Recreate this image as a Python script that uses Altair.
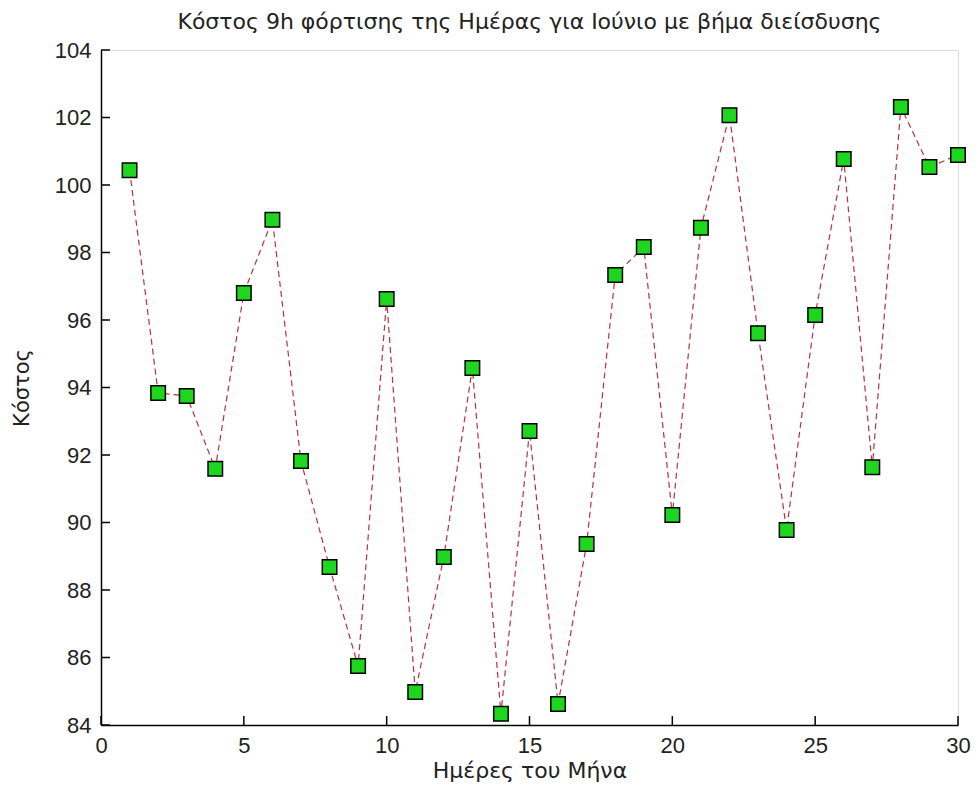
import altair as alt
import pandas as pd

days = list(range(1, 31))
cost = [100.44, 93.84, 93.75, 91.59, 96.80, 98.97, 91.82, 88.68, 85.75, 96.62,
        84.98, 88.98, 94.58, 84.33, 92.71, 84.62, 89.36, 97.33, 98.16, 90.22,
        98.73, 102.07, 95.61, 89.78, 96.15, 100.77, 91.64, 102.31, 100.53, 100.89]

x_ticks = [0, 5, 10, 15, 20, 25, 30]
y_ticks = [84, 86, 88, 90, 92, 94, 96, 98, 100, 102, 104]

title = "Κόστος 9h φόρτισης της Ημέρας για Ιούνιο με βήμα διείσδυσης"
x_title = "Ημέρες του Μήνα"
y_title = "Κόστος"

df = pd.DataFrame({"day": days, "cost": cost})
xt = pd.DataFrame({"t": x_ticks})
yt = pd.DataFrame({"t": y_ticks})

FONT = "Liberation Sans"
TFONT = "DejaVu Sans"
W, H = 857, 675

xscale = alt.Scale(domain=[0, 30], nice=False, zero=False)
yscale = alt.Scale(domain=[84, 104], nice=False, zero=False)

xaxis = alt.Axis(values=x_ticks, ticks=False, grid=False, domainColor="black",
                 domainWidth=1.5, labelFont=FONT, labelFontSize=22, labelColor="#222",
                 labelPadding=10, labelFlush=False, labelOverlap=False,
                 title=x_title, titleFont=TFONT, titleFontSize=22,
                 titleFontWeight="normal", titleColor="#222", titlePadding=4)
yaxis = alt.Axis(values=y_ticks, ticks=False, grid=False, domainColor="black",
                 domainWidth=1.5, labelFont=FONT, labelFontSize=22, labelColor="#222",
                 labelPadding=10, labelFlush=False, labelOverlap=False,
                 title=y_title, titleFont=TFONT, titleFontSize=21,
                 titleFontWeight="normal", titleColor="#222", titlePadding=22)

line = alt.Chart(df).mark_line(color="#b8323f", strokeWidth=1.2,
                               strokeDash=[6, 4]).encode(
    x=alt.X("day:Q", scale=xscale, axis=xaxis),
    y=alt.Y("cost:Q", scale=yscale, axis=yaxis),
)

points = alt.Chart(df).mark_point(shape="square", size=210, filled=True,
                                  fill="#1fd61f", stroke="black", strokeWidth=1.5,
                                  opacity=1).encode(
    x=alt.X("day:Q", scale=xscale),
    y=alt.Y("cost:Q", scale=yscale),
)

xtick_marks = alt.Chart(xt).mark_rule(color="black", strokeWidth=1.5).encode(
    x=alt.X("t:Q", scale=xscale),
    y=alt.value(H),
    y2=alt.value(H - 9),
)
ytick_marks = alt.Chart(yt).mark_rule(color="black", strokeWidth=1.5).encode(
    y=alt.Y("t:Q", scale=yscale),
    x=alt.value(0),
    x2=alt.value(9),
)

chart = alt.layer(line, xtick_marks, ytick_marks, points).properties(
    width=W, height=H,
    title=alt.TitleParams(title, font=TFONT, fontSize=22, fontWeight="normal",
                          color="#222", anchor="middle", offset=5),
    autosize=alt.AutoSizeParams(type="none"),
    padding={"left": 93, "top": 42, "right": 13, "bottom": 60},
).configure_view(stroke=None).configure(background="white")

chart.save("out.html", embed_options={"renderer": "svg", "actions": False})
